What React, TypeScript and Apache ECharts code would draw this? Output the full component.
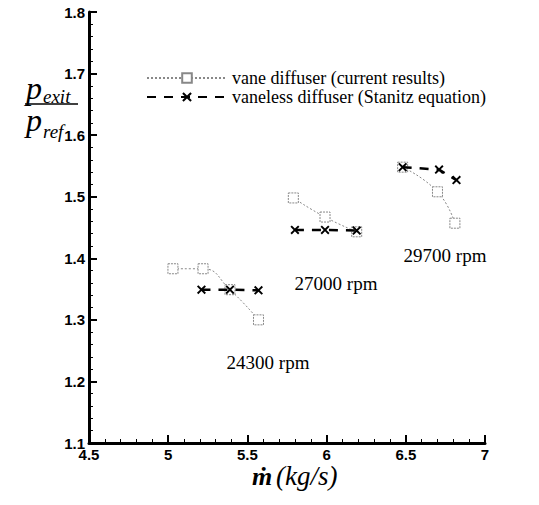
import React, { useEffect, useRef } from "react";
import * as echarts from "echarts";

const xTicks = [4.5, 5, 5.5, 6, 6.5, 7];
const yTicks = [1.1, 1.2, 1.3, 1.4, 1.5, 1.6, 1.7, 1.8];

const vane24300 = [[5.03, 1.383], [5.22, 1.383], [5.39, 1.349], [5.57, 1.3]];
const vane27000 = [[5.79, 1.498], [5.99, 1.467], [6.19, 1.443]];
const vane29700 = [[6.48, 1.548], [6.7, 1.508], [6.81, 1.457]];

const stan24300 = [[5.21, 1.349], [5.39, 1.349], [5.57, 1.348]];
const stan27000 = [[5.8, 1.446], [5.99, 1.446], [6.19, 1.445]];
const stan29700 = [[6.48, 1.548], [6.71, 1.544], [6.82, 1.527]];

const rpmLabels = ["24300 rpm", "27000 rpm", "29700 rpm"];

const VANE = "vane diffuser (current results)";
const STAN = "vaneless diffuser (Stanitz equation)";

const xPath =
  "path://M0,1.5 L1.5,0 L5,3.5 L8.5,0 L10,1.5 L6.5,5 L10,8.5 L8.5,10 L5,6.5 L1.5,10 L0,8.5 L3.5,5 Z";

const SERIF = "Liberation Serif";
const SANS = "Liberation Sans";
const IT_FONT = (size: number) => `italic ${size}px Liberation Serif`;

function vaneSeries(data: number[][]) {
  return {
    name: VANE,
    type: "line",
    data,
    smooth: true,
    symbol: "rect",
    symbolSize: 10,
    itemStyle: { color: "#fff", borderColor: "#888", borderWidth: 1, borderType: [2, 1] },
    lineStyle: { color: "#888", width: 1, type: [2, 2] },
    z: 2,
  };
}

function stanSeries(data: number[][]) {
  return {
    name: STAN,
    type: "line",
    data,
    symbol: xPath,
    symbolSize: 9,
    itemStyle: { color: "#000" },
    lineStyle: { color: "#000", width: 2.5, type: [9, 8] },
    z: 3,
  };
}

export default function App() {
  const ref = useRef<HTMLDivElement>(null);
  useEffect(() => {
    document.body.style.margin = "0";
    if (!ref.current) return;
    const chart = echarts.init(ref.current, undefined, { renderer: "svg" });
    chart.setOption({
      animation: false,
      backgroundColor: "#fff",
      grid: { left: 89, right: 54, top: 12, bottom: 62 },
      legend: {
        orient: "vertical",
        left: 141,
        top: 64,
        itemWidth: 80,
        itemHeight: 12,
        itemGap: 1,
        data: [VANE, STAN],
        textStyle: { fontFamily: SERIF, fontSize: 18, color: "#000" },
      },
      xAxis: {
        type: "value",
        min: xTicks[0],
        max: xTicks[xTicks.length - 1],
        interval: 0.5,
        axisLine: { lineStyle: { color: "#000", width: 3 } },
        axisTick: { inside: true, length: 8, lineStyle: { color: "#000", width: 2 } },
        minorTick: { show: true, splitNumber: 5, length: 4, lineStyle: { color: "#000", width: 1 } },
        splitLine: { show: false },
        axisLabel: {
          fontFamily: SANS,
          fontWeight: "bold",
          fontSize: 15,
          color: "#000",
          margin: 4,
          formatter: (v: number) => String(v),
        },
      },
      yAxis: {
        type: "value",
        min: yTicks[0],
        max: yTicks[yTicks.length - 1],
        interval: 0.1,
        axisLine: { lineStyle: { color: "#000", width: 3 } },
        axisTick: { inside: true, length: 8, lineStyle: { color: "#000", width: 2 } },
        minorTick: { show: true, splitNumber: 5, length: 4, lineStyle: { color: "#000", width: 1 } },
        splitLine: { show: false },
        axisLabel: {
          fontFamily: SANS,
          fontWeight: "bold",
          fontSize: 15,
          color: "#000",
          margin: 4,
          formatter: (v: number) => v.toFixed(1),
        },
      },
      series: [
        vaneSeries(vane24300),
        vaneSeries(vane27000),
        vaneSeries(vane29700),
        stanSeries(stan24300),
        stanSeries(stan27000),
        stanSeries(stan29700),
      ],
      graphic: [
        { type: "text", x: 268, y: 362, style: { text: rpmLabels[0], font: `19px ${SERIF}`, fill: "#000", align: "center", verticalAlign: "middle" } },
        { type: "text", x: 336, y: 283, style: { text: rpmLabels[1], font: `19px ${SERIF}`, fill: "#000", align: "center", verticalAlign: "middle" } },
        { type: "text", x: 445, y: 255, style: { text: rpmLabels[2], font: `19px ${SERIF}`, fill: "#000", align: "center", verticalAlign: "middle" } },
        { type: "text", x: 26, y: 104, style: { text: "p", font: IT_FONT(32), fill: "#000", verticalAlign: "bottom" } },
        { type: "text", x: 43, y: 106, style: { text: "exit", font: IT_FONT(19), fill: "#000", verticalAlign: "bottom" } },
        { type: "line", shape: { x1: 25, y1: 104, x2: 78, y2: 104 }, style: { stroke: "#000", lineWidth: 1.5 } },
        { type: "text", x: 26, y: 136, style: { text: "p", font: IT_FONT(32), fill: "#000", verticalAlign: "bottom" } },
        { type: "text", x: 43, y: 141, style: { text: "ref", font: IT_FONT(19), fill: "#000", verticalAlign: "bottom" } },
        {
          type: "text",
          x: 262,
          y: 476,
          style: {
            text: "ṁ",
            font: `italic bold 26px Liberation Serif`,
            fill: "#000",
            align: "center",
            verticalAlign: "middle",
          },
        },
        {
          type: "text",
          x: 276,
          y: 476,
          style: {
            text: "(kg/s)",
            font: IT_FONT(27),
            fill: "#000",
            align: "left",
            verticalAlign: "middle",
          },
        },
      ],
    });
    return () => chart.dispose();
  }, []);
  return <div ref={ref} style={{ width: 539, height: 505 }} />;
}
